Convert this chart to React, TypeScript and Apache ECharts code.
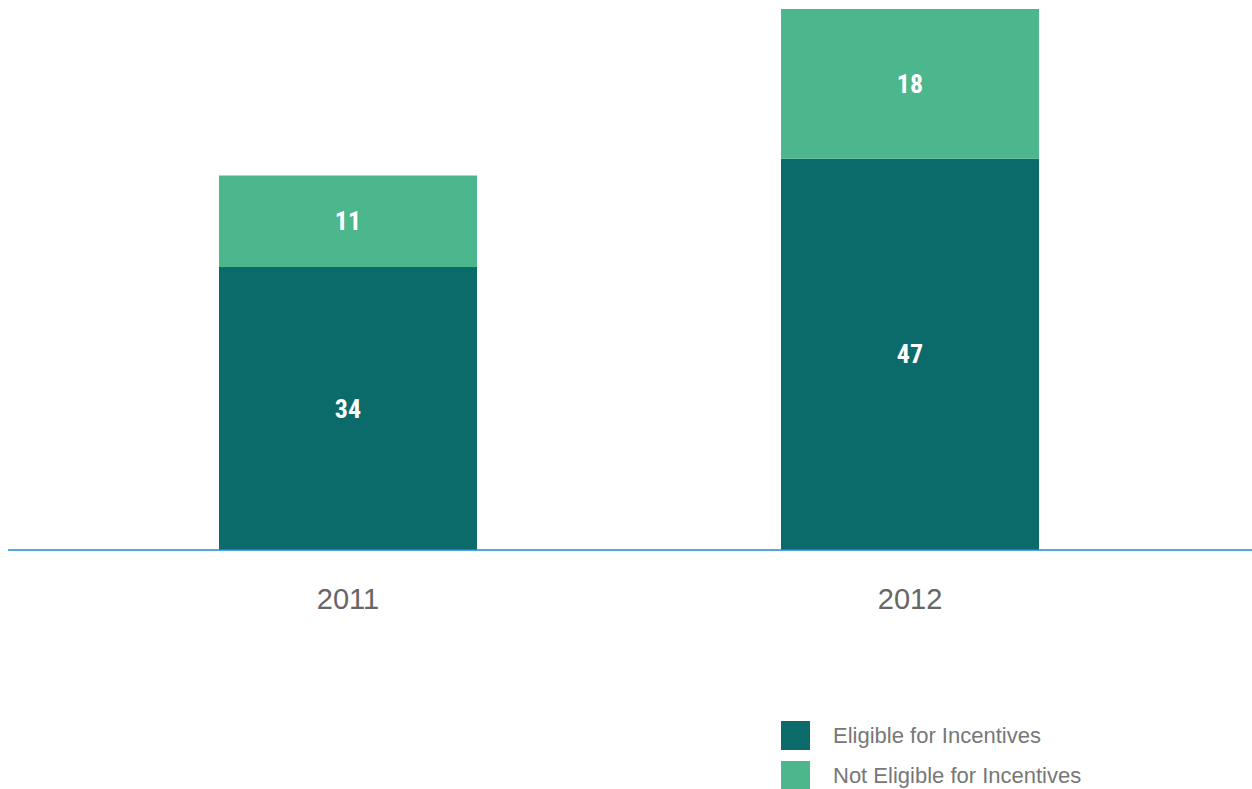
import React, { useEffect, useRef } from "react";
import * as echarts from "echarts";

const categories = ["2011", "2012"];
const eligible = [34, 47];
const notEligible = [11, 18];
const seriesNames = ["Eligible for Incentives", "Not Eligible for Incentives"];

export default function App() {
  const ref = useRef<HTMLDivElement>(null);
  useEffect(() => {
    const chart = echarts.init(ref.current!, null, { renderer: "svg" });
    const labelStyle = {
      show: true,
      position: "inside",
      color: "#ffffff",
      fontFamily: "'Liberation Sans Narrow', 'Roboto Condensed', 'Roboto', sans-serif",
      fontWeight: "bold",
      fontSize: 26,
    };
    const legendBase = (name: string, top: number) => ({
      orient: "vertical",
      left: 781,
      top,
      padding: 0,
      itemWidth: 29,
      itemHeight: 29,
      icon: "rect",
      data: [name],
      textStyle: {
        color: "#777777",
        fontSize: 22,
        fontFamily: "'Helvetica Neue', 'Liberation Sans', Arial, sans-serif",
        padding: [0, 0, 0, 18],
      },
    });
    chart.setOption({
      animation: false,
      backgroundColor: "#ffffff",
      grid: { left: 67, right: 61, top: 9, bottom: 239, containLabel: false },
      xAxis: {
        type: "category",
        data: categories,
        axisLine: { show: false },
        axisTick: { show: false },
        axisLabel: {
          color: "#666666",
          fontSize: 29,
          fontFamily: "'Helvetica Neue', 'Liberation Sans', Arial, sans-serif",
          margin: 34,
        },
      },
      yAxis: {
        type: "value",
        min: 0,
        max: 65,
        show: false,
        splitLine: { show: false },
      },
      legend: [legendBase(seriesNames[0], 721), legendBase(seriesNames[1], 761)],
      graphic: [
        {
          type: "line",
          shape: { x1: 8, y1: 550, x2: 1252, y2: 550 },
          style: { stroke: "#1a8ad4", lineWidth: 1.5 },
          z: 10,
        },
      ],
      series: [
        {
          name: seriesNames[0],
          type: "bar",
          stack: "total",
          barWidth: 258,
          data: eligible,
          itemStyle: { color: "#0b6a6a" },
          label: labelStyle,
        },
        {
          name: seriesNames[1],
          type: "bar",
          stack: "total",
          barWidth: 258,
          data: notEligible,
          itemStyle: { color: "#4cb68c" },
          label: labelStyle,
        },
      ],
    });
    return () => chart.dispose();
  }, []);
  return (
    <div
      ref={ref}
      style={{ position: "absolute", left: 0, top: 0, width: 1252, height: 789 }}
    />
  );
}
